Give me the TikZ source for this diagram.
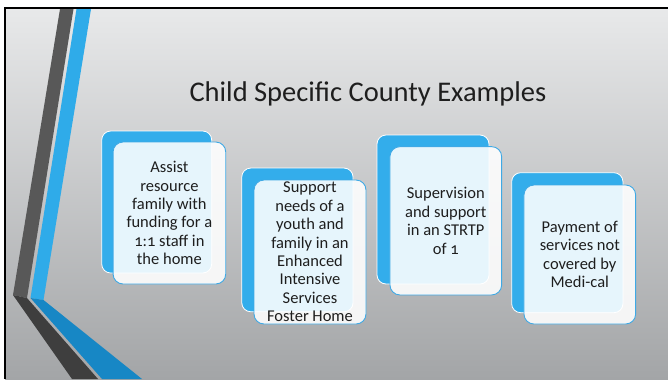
\documentclass[tikz,border=0pt]{standalone}
\usepackage{fontspec}
\setmainfont{Carlito}[Numbers=OldStyle]
\definecolor{bgtop}{HTML}{E8E9EA}
\definecolor{bgbot}{HTML}{A3A5A7}
\definecolor{darkv}{HTML}{585858}
\definecolor{darkd}{HTML}{3E3E3E}
\definecolor{bluev}{HTML}{2FABE9}
\definecolor{blued}{HTML}{1787C5}
\definecolor{backblue}{HTML}{33ADEB}
\definecolor{frontline}{HTML}{3FA9E5}
\definecolor{txt}{HTML}{1E1E1E}
\tikzset{
  backbox/.style={draw=white, line width=0.8bp, fill=backblue, rounded corners=9bp, inner sep=0pt},
  frontbox/.style={draw=frontline, line width=0.9bp, fill=white, fill opacity=0.88, rounded corners=10bp, inner sep=0pt},
  boxtext/.style={text=txt, align=center, inner sep=0pt, font=\fontsize{16.5bp}{18.4bp}\selectfont},
  titletext/.style={text=txt, inner sep=0pt, font=\fontsize{28.5bp}{34bp}\selectfont}
}
\begin{document}
\begin{tikzpicture}[x=1bp,y=-1bp]
\useasboundingbox (0,0) rectangle (668,379);
\fill[white] (0,0) rectangle (668,379);
\shade[top color=bgtop, bottom color=bgbot] (5,8) rectangle (668,379);
\draw[black, line width=2.2bp] (5,379) -- (5,8) -- (668,8);
% stripes
\fill[darkv] (60,9) -- (73.5,9) -- (27,298) -- (13,295) -- cycle;
\fill[darkd] (13,295) -- (27,298) -- (98,379) -- (72,379) -- cycle;
\fill[bluev] (76.5,9) -- (91,9) -- (43.5,300) -- (30.5,298) -- cycle;
\fill[blued] (30.5,298) -- (43.5,300) -- (142,379) -- (102,379) -- cycle;
% title
\node[titletext, anchor=base] (title) at (368,101.7) {Child Specific County Examples};
% box 1
\node[backbox, minimum width=110bp, minimum height=142bp] (b1) at (156.7,202) {};
\node[frontbox, minimum width=112.7bp, minimum height=142bp] (f1) at (169.4,213) {};
\node[boxtext] (t1) at (f1.center) {Assist\\resource\\family with\\funding for a\\1:1 staff in\\the home};
% box 2
\node[backbox, minimum width=111.3bp, minimum height=143.7bp] (b2) at (297.4,239.9) {};
\node[frontbox, minimum width=112bp, minimum height=144bp] (f2) at (310,252) {};
\node[boxtext] (t2) at (f2.center) {Support\\needs of a\\youth and\\family in an\\Enhanced\\Intensive\\Services\\Foster Home};
% box 3
\node[backbox, minimum width=112bp, minimum height=149bp] (b3) at (433,209.5) {};
\node[frontbox, minimum width=111.7bp, minimum height=148.3bp] (f3) at (445.8,220.8) {};
\node[boxtext] (t3) at (f3.center) {Supervision\\and support\\in an STRTP\\of 1};
% box 4
\node[backbox, minimum width=111.3bp, minimum height=140bp] (b4) at (567.3,242.7) {};
\node[frontbox, minimum width=111.7bp, minimum height=139bp] (f4) at (579.8,254.5) {};
\node[boxtext] (t4) at (f4.center) {Payment of\\services not\\covered by\\Medi-cal};
\end{tikzpicture}
\end{document}
